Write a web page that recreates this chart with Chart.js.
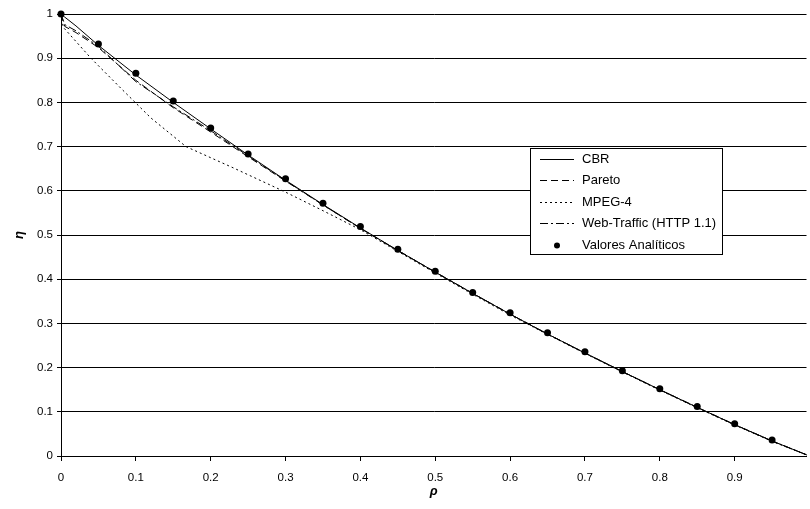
<!DOCTYPE html>
<html>
<head>
<meta charset="utf-8">
<script src="https://cdn.jsdelivr.net/npm/chart.js@4.4.1/dist/chart.umd.min.js"></script>
<style>
  html, body { margin: 0; padding: 0; background: #fff; overflow: hidden; }
  #wrap { width: 810px; height: 509px; }
</style>
</head>
<body>
<div id="wrap"><canvas id="eta"></canvas></div>
<script>
// eficiencia (eta) frente a carga (rho)
var rho = [0, 0.005, 0.02, 0.05, 0.1, 0.15, 0.2, 0.25, 0.3, 0.35, 0.4, 0.45, 0.5,
           0.55, 0.6, 0.65, 0.7, 0.75, 0.8, 0.85, 0.9, 0.95, 1.0];
var cbr = [1, 0.993, 0.973, 0.929, 0.862, 0.800, 0.740, 0.681, 0.624, 0.569, 0.516, 0.465, 0.416,
           0.368, 0.321, 0.276, 0.233, 0.191, 0.150, 0.110, 0.071, 0.034, 0];
var pareto = [1, 0.972, 0.958, 0.924, 0.850, 0.788, 0.733, 0.677, 0.622, 0.568, 0.515, 0.465, 0.416,
              0.368, 0.321, 0.276, 0.233, 0.191, 0.150, 0.110, 0.071, 0.034, 0];
var web = [1, 0.976, 0.962, 0.927, 0.847, 0.790, 0.736, 0.679, 0.623, 0.568, 0.515, 0.465, 0.416,
           0.368, 0.321, 0.276, 0.233, 0.191, 0.150, 0.110, 0.071, 0.034, 0];

var rhoMpeg = [0, 0.003, 0.04, 0.08, 0.12, 0.167, 0.23, 0.3, 0.35, 0.4, 0.45, 0.5,
               0.55, 0.6, 0.65, 0.7, 0.75, 0.8, 0.85, 0.9, 0.95, 1.0];
var mpeg = [1, 0.97, 0.9, 0.832, 0.765, 0.700, 0.652, 0.597, 0.555, 0.512, 0.463, 0.414,
            0.366, 0.319, 0.275, 0.232, 0.190, 0.149, 0.109, 0.070, 0.033, 0];

var rhoAnal = [0, 0.05, 0.1, 0.15, 0.2, 0.25, 0.3, 0.35, 0.4, 0.45, 0.5,
               0.55, 0.6, 0.65, 0.7, 0.75, 0.8, 0.85, 0.9, 0.95];
var anal = [1, 0.932, 0.866, 0.803, 0.742, 0.683, 0.627, 0.572, 0.519, 0.468, 0.418,
            0.370, 0.324, 0.279, 0.236, 0.193, 0.152, 0.112, 0.073, 0.036];

var xTicks = [0, 0.1, 0.2, 0.3, 0.4, 0.5, 0.6, 0.7, 0.8, 0.9];
var yTicks = [0, 0.1, 0.2, 0.3, 0.4, 0.5, 0.6, 0.7, 0.8, 0.9, 1];

function pts(xs, ys) {
  return xs.map(function (x, i) { return { x: x, y: ys[i] }; });
}

var FONT = '"Liberation Sans", Arial, sans-serif';

function lineSet(label, data, dash) {
  return {
    label: label,
    data: data,
    showLine: true,
    borderColor: '#000',
    borderWidth: 1,
    borderDash: dash,
    pointRadius: 0,
    pointHoverRadius: 0,
    fill: false,
    tension: 0,
    order: 1
  };
}

// cuadro de leyenda dentro del area del grafico
var legendBox = {
  id: 'legendBox',
  afterDraw: function (chart) {
    var ctx = chart.ctx;
    var x0 = 530, y0 = 148, w = 192, h = 106, row = 21.4;
    ctx.save();
    ctx.fillStyle = '#fff';
    ctx.fillRect(x0, y0, w, h);
    ctx.strokeStyle = '#000';
    ctx.lineWidth = 1;
    ctx.strokeRect(x0 + 0.5, y0 + 0.5, w, h);
    ctx.font = '13px ' + FONT;
    ctx.textBaseline = 'middle';
    ctx.fillStyle = '#000';
    chart.data.datasets.forEach(function (ds, i) {
      var cy = Math.round(y0 + 11 + i * row) + 0.5;
      if (ds.showLine) {
        ctx.setLineDash(ds.borderDash || []);
        ctx.beginPath();
        ctx.moveTo(x0 + 10, cy);
        ctx.lineTo(x0 + 44, cy);
        ctx.stroke();
        ctx.setLineDash([]);
      } else {
        ctx.beginPath();
        ctx.arc(x0 + 27, cy, 3, 0, Math.PI * 2);
        ctx.fill();
      }
      ctx.fillText(ds.label, x0 + 52, cy);
    });
    ctx.restore();
  }
};

new Chart(document.getElementById('eta'), {
  type: 'scatter',
  data: {
    datasets: [
      lineSet('CBR', pts(rho, cbr), []),
      lineSet('Pareto', pts(rho, pareto), [7, 4]),
      lineSet('MPEG-4', pts(rhoMpeg, mpeg), [2, 3]),
      lineSet('Web-Traffic (HTTP 1.1)', pts(rho, web), [8, 3, 2, 3]),
      {
        label: 'Valores Analíticos',
        data: pts(rhoAnal, anal),
        showLine: false,
        pointRadius: 3.5,
        pointHoverRadius: 3.5,
        pointBackgroundColor: '#000',
        pointBorderColor: '#000',
        pointBorderWidth: 0,
        clip: false,
        order: 0
      }
    ]
  },
  options: {
    responsive: true,
    maintainAspectRatio: false,
    animation: false,
    layout: { padding: { top: 14, right: 0, bottom: 0, left: 0 } },
    plugins: {
      legend: { display: false },
      tooltip: { enabled: false }
    },
    scales: {
      x: {
        type: 'linear',
        min: 0,
        max: 0.996,
        afterBuildTicks: function (s) { s.ticks = xTicks.map(function (v) { return { value: v }; }); },
        afterFit: function (s) { s.height = 53; },
        ticks: {
          color: '#000',
          font: { family: FONT, size: 11.5 },
          padding: 10,
          maxRotation: 0,
          callback: function (v) { return String(v); }
        },
        grid: { drawOnChartArea: false, drawTicks: true, tickLength: 5, color: '#000' },
        border: { color: '#000', width: 1 },
        title: {
          display: true,
          text: 'ρ',
          color: '#000',
          font: { family: FONT, size: 13, weight: 'bold', style: 'italic' },
          padding: { top: 0, bottom: 10 }
        }
      },
      y: {
        type: 'linear',
        min: 0,
        max: 1,
        afterBuildTicks: function (s) { s.ticks = yTicks.map(function (v) { return { value: v }; }); },
        afterFit: function (s) { s.width = 61; },
        ticks: {
          color: '#000',
          font: { family: FONT, size: 11.5 },
          padding: 4,
          callback: function (v) { return String(v); }
        },
        grid: { color: '#000', lineWidth: 1, drawTicks: true, tickLength: 4 },
        border: { color: '#000', width: 1 },
        title: {
          display: true,
          text: 'η',
          color: '#000',
          font: { family: FONT, size: 13, weight: 'bold', style: 'italic' },
          padding: { top: 12, bottom: 0 }
        }
      }
    }
  },
  plugins: [legendBox]
});
</script>
</body>
</html>
